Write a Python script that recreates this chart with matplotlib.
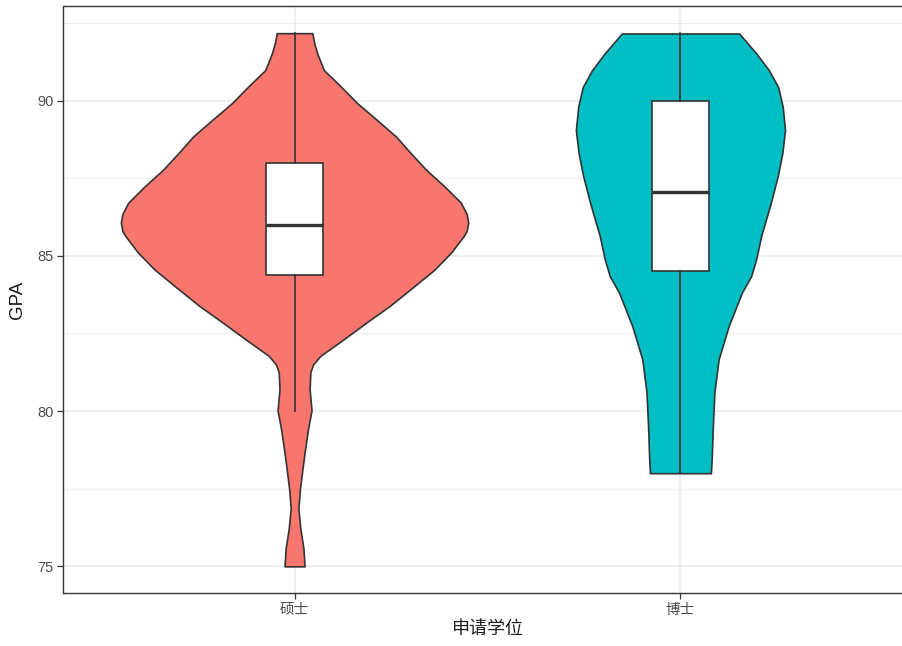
import numpy as np
import matplotlib
matplotlib.use("Agg")
import matplotlib.pyplot as plt

plt.rcParams['font.family'] = ['Liberation Sans', 'Noto Sans CJK SC', 'DejaVu Sans']

categories = ['硕士', '博士']
colors = ['#F8766D', '#00BFC4']

# violin outline: GPA level -> half width (x units)
master_gpa = [92.17, 91.85, 91.51, 90.98, 90.44, 89.92, 89.37, 88.84, 88.32, 87.77,
              87.23, 86.71, 86.35, 86.07, 85.80, 85.63, 85.11, 84.56, 83.98, 83.38,
              82.85, 82.31, 81.78, 81.50, 81.25, 80.71, 80.02, 79.43, 78.57, 77.50,
              76.86, 76.22, 75.58, 75.0]
master_hw = [0.046, 0.051, 0.059, 0.076, 0.121, 0.162, 0.214, 0.263, 0.300, 0.341,
             0.389, 0.431, 0.446, 0.450, 0.446, 0.438, 0.406, 0.363, 0.306, 0.246,
             0.186, 0.127, 0.067, 0.048, 0.041, 0.039, 0.044, 0.035, 0.025, 0.014,
             0.010, 0.015, 0.023, 0.026]

phd_gpa = [92.16, 91.51, 90.98, 90.44, 89.80, 89.05, 88.31, 87.56, 86.70, 85.63,
           84.88, 84.34, 83.81, 82.74, 81.67, 80.61, 79.53, 78.47, 78.0]
phd_hw = [0.152, 0.197, 0.229, 0.253, 0.265, 0.271, 0.264, 0.252, 0.234, 0.209,
          0.196, 0.183, 0.159, 0.125, 0.099, 0.088, 0.084, 0.081, 0.079]

# box stats: min, q1, median, q3, max
box_stats = [
    dict(whislo=80.0, q1=84.37, med=86.0, q3=88.0, whishi=92.17),
    dict(whislo=78.0, q1=84.5, med=87.07, q3=90.0, whishi=92.16),
]

fig = plt.figure(figsize=(9.03, 6.46), dpi=100)
ax = fig.add_axes([63/903, 53/646, (912-63)/903, (593-6.5)/646])

edge = '#333333'
profiles = [(master_gpa, master_hw), (phd_gpa, phd_hw)]
for i, (g, hw) in enumerate(profiles):
    pos = i + 1
    g = np.array(g)
    hw = np.array(hw)
    ax.fill_betweenx(g, pos - hw, pos + hw, facecolor=colors[i], edgecolor=edge,
                     linewidth=1.2, zorder=2)

ax.bxp(box_stats, positions=[1, 2], widths=0.15, showfliers=False, showcaps=False,
       patch_artist=True,
       boxprops=dict(facecolor='white', edgecolor=edge, linewidth=1.2),
       whiskerprops=dict(color=edge, linewidth=1.2),
       medianprops=dict(color=edge, linewidth=2.4),
       zorder=3)

ymin, ymax = 75.0, 92.17
pad = (ymax - ymin) * 0.05
ax.set_ylim(ymin - pad, ymax + pad)
ax.set_xlim(0.4, 2.6)

ax.set_yticks([75, 80, 85, 90])
ax.set_yticks([77.5, 82.5, 87.5, 92.5], minor=True)
ax.set_xticks([1, 2])
ax.set_xticklabels(categories)

ax.grid(True, which='major', color='#EBEBEB', linewidth=1.1, zorder=0)
ax.grid(True, which='minor', axis='y', color='#EBEBEB', linewidth=0.6, zorder=0)
ax.set_axisbelow(True)

ax.tick_params(axis='both', which='major', length=4, width=0.9, color=edge,
               labelcolor='#4D4D4D', labelsize=10.5, pad=3)
ax.tick_params(axis='both', which='minor', length=0)
for s in ax.spines.values():
    s.set_color(edge)
    s.set_linewidth(1.0)

ax.set_ylabel('GPA', fontsize=13.5, color='#1A1A1A', labelpad=8)
ax.set_xlabel('申请学位', fontsize=13, color='#1A1A1A', labelpad=3)

fig.savefig('out.png', dpi=100, facecolor='white')
